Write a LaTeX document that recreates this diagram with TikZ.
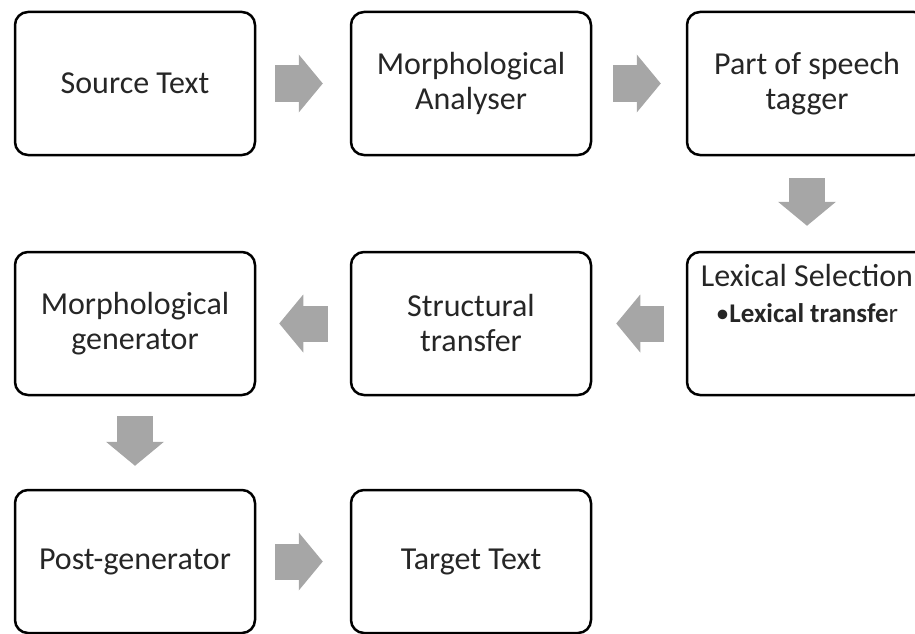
\documentclass[tikz,border=0pt]{standalone}
\usepackage{fontspec}
\setmainfont{Carlito}
\usetikzlibrary{arrows.meta}

\begin{document}
\begin{tikzpicture}[x=1pt, y=-1pt,
        stage/.style={shape=rectangle, rounded corners=13pt, draw=black, line width=2.5pt,
            minimum width=240pt, minimum height=143pt, inner sep=0pt, align=center,
            font=\fontsize{32}{35}\selectfont, text=black!85},
        flow/.style={color=black!35, line width=36pt,
            -{Triangle[length=24pt, width=58pt, line width=0pt, fill=black!35]}}]
        \clip (0,0) rectangle (915,634);

        \node[stage] (src) at (135,83.5) {Source Text};
        \node[stage] (morph) at (471,83.5) {Morphological\\Analyser};
        \node[stage] (pos) at (807,83.5) {Part of speech\\tagger};

        \node[stage] (lex) at (807,323.5) {\parbox[c][119pt][t]{236pt}{\centering
            Lexical Selection\par
            \fontsize{27}{36}\selectfont\textbullet\textbf{Lexical transfe}r}};
        \node[stage] (struct) at (471,323.5) {Structural\\transfer};
        \node[stage] (mgen) at (135,323.5) {Morphological\\generator};

        \node[stage] (post) at (135,561.5) {Post-generator};
        \node[stage] (tgt) at (471,561.5) {Target Text};

        \path [flow] (src) edge[shorten <=19pt, shorten >=27pt] (morph);
        \path [flow] (morph) edge[shorten <=21pt, shorten >=25pt] (pos);
        \path [flow] (pos) edge[shorten <=22pt, shorten >=25pt] (lex);
        \path [flow] (lex) edge[shorten <=22pt, shorten >=24pt] (struct);
        \path [flow] (struct) edge[shorten <=22pt, shorten >=23pt] (mgen);
        \path [flow] (mgen) edge[shorten <=20pt, shorten >=23pt] (post);
        \path [flow] (post) edge[shorten <=19pt, shorten >=27pt] (tgt);
    \end{tikzpicture}
\end{document}
